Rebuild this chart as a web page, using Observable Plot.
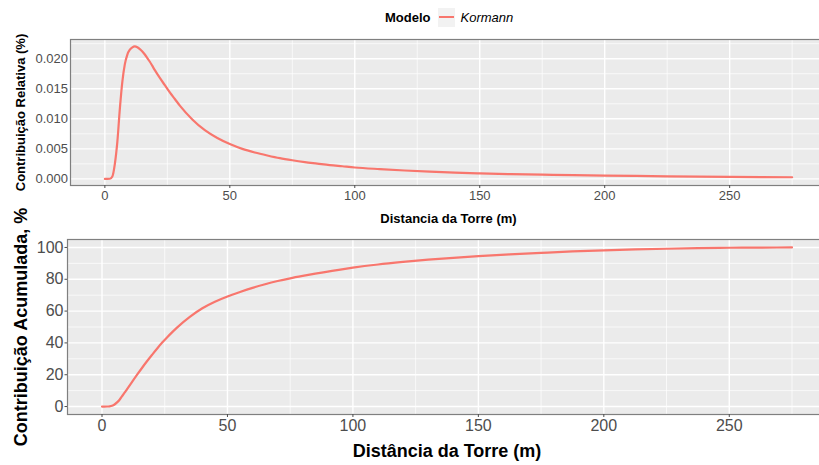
<!DOCTYPE html>
<html><head><meta charset="utf-8">
<script src="https://cdn.jsdelivr.net/npm/d3@7"></script>
<script src="https://cdn.jsdelivr.net/npm/@observablehq/plot@0.6"></script>
<style>
html,body{margin:0;padding:0;overflow:hidden;background:#fff;width:819px;height:465px;}
#wrap{position:relative;width:819px;height:465px;overflow:hidden;font-family:"Liberation Sans",Arial,Helvetica,sans-serif;}
#legend{position:absolute;left:385px;top:7px;height:20px;display:flex;align-items:center;font-size:13px;color:#000;white-space:nowrap;}
#legend .ttl{font-weight:bold;}
#legend .key{display:inline-block;width:17px;height:19px;background:#F2F2F2;margin-left:7px;margin-right:6px;position:relative;}
#legend .key i{position:absolute;left:1px;right:1px;top:8px;height:2.2px;background:#F8766D;}
#legend .lab{font-style:italic;}
#top{position:absolute;left:0;top:0;width:826px;}
#bot{position:absolute;left:0;top:232px;width:826px;}
#top svg,#bot svg{max-width:none !important;}
</style>
</head><body>
<div id="wrap">
  <div id="legend"><span class="ttl">Modelo</span><span class="key"><i></i></span><span class="lab">Kormann</span></div>
  <div id="top"></div>
  <div id="bot"></div>
</div>
<script>
// ---- data ----
const modelName = "Kormann";
const relDist = [0,1,2,3,4,5,6,7,8,9,10,11,12,13,14,15,16,17,18,19,20,22,24,26,28,30,35,40,45,50,55,60,65,70,75,80,85,90,95,100,110,120,130,140,150,162.5,175,187.5,200,212.5,225,237.5,250,262.5,275];
const relVals = [0,0,0.00002,0.0004,0.0025,0.0062,0.0117,0.0162,0.0191,0.0207,0.0215,0.0219,0.02205,0.0219,0.0216,0.0212,0.0207,0.0201,0.0195,0.0188,0.0181,0.0168,0.0156,0.0144,0.0133,0.0122,0.0099,0.0081,0.0068,0.0058,0.0050,0.0044,0.0039,0.00345,0.0031,0.0028,0.00255,0.0023,0.0021,0.0019,0.00163,0.0014,0.00121,0.00105,0.00092,0.0008,0.0007,0.00062,0.00055,0.00049,0.00043,0.00038,0.00034,0.0003,0.00027];
const accDist = [0,1,2,3,4,5,6,7,8,9,10,12,14,16,18,20,22,24,26,28,30,35,40,45,50,55,60,65,70,75,80,85,90,95,100,110,120,130,140,150,162.5,175,187.5,200,212.5,225,237.5,250,262.5,275];
const accVals = [0,0,0.02,0.15,0.5,1.3,2.6,4.3,6.5,8.7,11.0,15.5,20.0,24.4,28.6,32.6,36.5,40.2,43.6,46.8,49.8,56.4,61.8,65.9,69.2,72.0,74.6,76.9,78.9,80.6,82.1,83.5,84.8,86.1,87.3,89.3,90.9,92.3,93.5,94.5,95.6,96.6,97.5,98.2,98.8,99.2,99.55,99.8,99.93,100];
const xTicks = [0,50,100,150,200,250];
const xMinor = [25,75,125,175,225,275];
const relTicks = [0,0.005,0.01,0.015,0.02];
const relMinor = [0.0025,0.0075,0.0125,0.0175,0.0225];
const accTicks = [0,20,40,60,80,100];
const accMinor = [10,30,50,70,90];
const titles = {
  relY: "Contribuição Relativa (%)",
  relX: "Distancia da Torre (m)",
  accY: "Contribuição Acumulada, %",
  accX: "Distância da Torre (m)"
};

const rel = relDist.map((d,i)=>({d, v: relVals[i]}));
const acc = accDist.map((d,i)=>({d, v: accVals[i]}));
const lineColor = "#F8766D";
const font = "Liberation Sans, Arial, Helvetica, sans-serif";

function panel({data, yDomain, yTicks, yMinor, yFmt, tickFont, height, mt, mb, ml, yTitle, xTitle, titleFont, yTitleDx, xTitleDy, yTickSize, yPad, xPad}) {
  return Plot.plot({
    width: 826, height,
    marginTop: mt, marginBottom: mb, marginLeft: ml, marginRight: 0,
    style: {fontFamily: font, background: "transparent", overflow: "visible", maxWidth: "none"},
    x: {domain: [-13.75, 288.75]},
    y: {domain: yDomain},
    marks: [
      Plot.frame({fill: "#EBEBEB", stroke: null}),
      Plot.gridX(xMinor, {stroke: "white", strokeOpacity: 1, strokeWidth: 0.7}),
      Plot.gridY(yMinor, {stroke: "white", strokeOpacity: 1, strokeWidth: 0.7}),
      Plot.gridX(xTicks, {stroke: "white", strokeOpacity: 1, strokeWidth: 1.4}),
      Plot.gridY(yTicks, {stroke: "white", strokeOpacity: 1, strokeWidth: 1.4}),
      Plot.line(data, {x: "d", y: "v", stroke: lineColor, strokeWidth: 2.2, curve: "monotone-x"}),
      Plot.frame({stroke: "#7F7F7F", strokeWidth: 1.2}),
      Plot.axisX(xTicks, {tickSize: 3, tickPadding: xPad, fontSize: tickFont, color: "#4D4D4D", tickFormat: d => String(d), label: null}),
      Plot.axisY(yTicks, {tickSize: yTickSize, tickPadding: yPad, fontSize: tickFont, color: "#4D4D4D", tickFormat: yFmt, label: null}),
      Plot.text([yTitle], {text: d => d, frameAnchor: "left", dx: yTitleDx, rotate: -90, fontSize: titleFont, fontWeight: "bold", fill: "#000", textAnchor: "middle", lineAnchor: "middle"}),
      Plot.text([xTitle], {text: d => d, frameAnchor: "bottom", dy: xTitleDy, fontSize: titleFont, fontWeight: "bold", fill: "#000", textAnchor: "middle", lineAnchor: "middle"})
    ]
  });
}

document.getElementById("top").append(panel({
  data: rel, yDomain: [-0.0011, 0.0232], yTicks: relTicks, yMinor: relMinor,
  yFmt: d3.format(".3f"), tickFont: 13, height: 232, mt: 39, mb: 47, ml: 70,
  yTitle: titles.relY, xTitle: titles.relX, titleFont: 13, yTitleDx: -50, xTitleDy: 33,
  yTickSize: 0, yPad: 2.5, xPad: 2.5
}));
document.getElementById("bot").append(panel({
  data: acc, yDomain: [-5, 105], yTicks: accTicks, yMinor: accMinor,
  yFmt: d => String(d), tickFont: 16, height: 233, mt: 7, mb: 51, ml: 67,
  yTitle: titles.accY, xTitle: titles.accX, titleFont: 18, yTitleDx: -46, xTitleDy: 37,
  yTickSize: 2.5, yPad: 1.5, xPad: 2
}));
</script>
</body></html>
